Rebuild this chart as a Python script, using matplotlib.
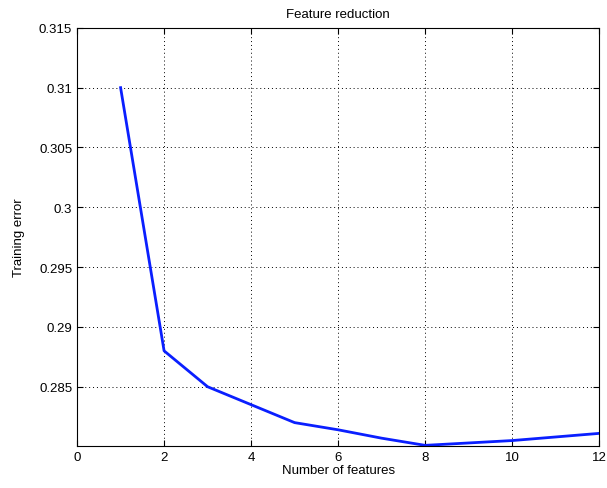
import matplotlib
matplotlib.use('Agg')
import matplotlib.pyplot as plt

# Dados
num_features = [1, 2, 3, 4, 5, 6, 7, 8, 9, 10, 11, 12]
training_error = [0.310, 0.288, 0.285, 0.2835, 0.282, 0.2814, 0.2807,
                  0.2801, 0.2803, 0.2805, 0.2808, 0.2811]
x_ticks = [0, 2, 4, 6, 8, 10, 12]
y_ticks = [0.285, 0.29, 0.295, 0.3, 0.305, 0.31, 0.315]
y_labels = ['0.285', '0.29', '0.295', '0.3', '0.305', '0.31', '0.315']

plt.rcParams['font.family'] = ['Liberation Sans', 'DejaVu Sans']
plt.rcParams['font.size'] = 9.5

fig = plt.figure(figsize=(6.07, 4.89), dpi=100)
ax = fig.add_axes([0.127, 0.086, 0.86, 0.855])

ax.plot(num_features, training_error, color='#0a1fff', linewidth=2)

ax.set_xlim(0, 12)
ax.set_ylim(0.28005, 0.315)
ax.set_xticks(x_ticks)
ax.set_yticks(y_ticks)
ax.set_yticklabels(y_labels)

ax.grid(True, linestyle=(0, (1, 3)), color='black', linewidth=0.7)
ax.tick_params(direction='in', top=True, right=True, length=4, width=0.8)
for s in ax.spines.values():
    s.set_linewidth(0.8)

ax.set_title('Feature reduction', fontsize=9.5, pad=8)
ax.set_xlabel('Number of features', labelpad=1)
ax.set_ylabel('Training error', labelpad=10)

fig.savefig('out.png', dpi=100)
